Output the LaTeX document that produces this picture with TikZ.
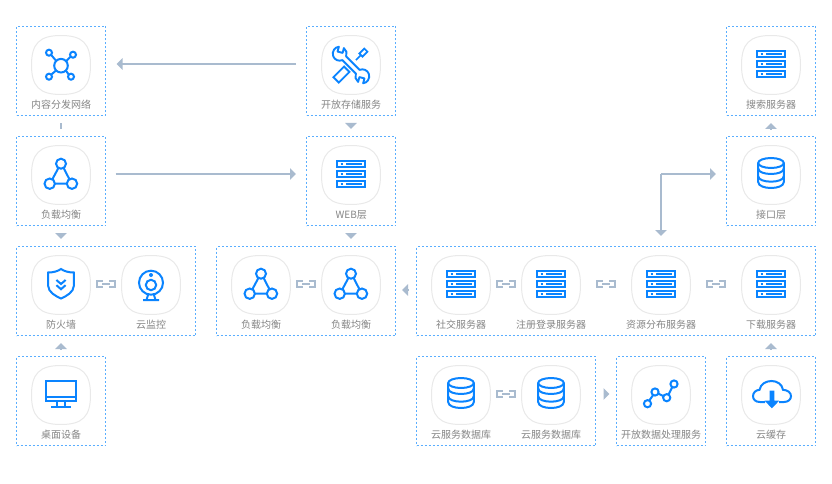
\documentclass[tikz,border=0pt]{standalone}
\usepackage{fontspec}
\setmainfont{Noto Sans CJK SC}
\usetikzlibrary{arrows.meta,calc}
\definecolor{iconblue}{HTML}{0A84FF}
\definecolor{dashblue}{HTML}{5AAEFF}
\definecolor{linkgray}{HTML}{A9BBCF}
\definecolor{softgray}{HTML}{E9E9E9}
\definecolor{labelgray}{HTML}{858585}
\tikzset{
  groupbox/.style={draw=dashblue,line width=1pt,dash pattern=on 2pt off 2pt,outer sep=0pt,inner sep=0pt,anchor=north west},
  squircle/.style={draw=softgray,line width=1pt,fill=white},
  tilelabel/.style={text=labelgray,font=\fontsize{10}{12}\selectfont,inner sep=0pt},
  ico/.style={draw=iconblue,line width=2pt,line join=miter},
  conn/.style={draw=linkgray,line width=2pt},
  headtip/.style={-{Triangle[length=6pt,width=11.5pt]},conn},
  linkicon/.style={draw=linkgray,line width=2pt}
}
\newcommand{\tile}[5]{% name, cx, cy, label, icon
  \begin{scope}[shift={(#2,#3)}]
    \path[squircle] (0,-29.5) .. controls (21.5,-29.5) and (29.5,-21.5) .. (29.5,0)
      .. controls (29.5,21.5) and (21.5,29.5) .. (0,29.5)
      .. controls (-21.5,29.5) and (-29.5,21.5) .. (-29.5,0)
      .. controls (-29.5,-21.5) and (-21.5,-29.5) .. (0,-29.5) -- cycle;
    #5
    \node[tilelabel] (#1) at (0.2,39.8) {#4};
  \end{scope}}
\newcommand{\icnet}{
  \draw[ico] (0,0.7) circle (6.8);
  \draw[ico] (-12,-12.3) circle (3) (12,-10.3) circle (3) (-12,11.7) circle (3) (10,11.7) circle (3);
  \draw[ico] (-9.9,-10.2) -- (-4.8,-4.1) (9.6,-8.4) -- (5,-3.6) (-9.8,9.7) -- (-5,5.5) (7.8,9.6) -- (4.8,5.5);
}
\newcommand{\icbal}{
  \draw[ico] (0,-11.3) circle (5) (-11.3,8.7) circle (5.2) (11,8.7) circle (5.2);
  \draw[ico] (-2.6,-7) -- (-8.6,4.2) (2.6,-7) -- (8.4,4.2) (-6.1,8.7) -- (5.8,8.7);
}
\newcommand{\icsrv}{
  \foreach \yy in {-13.7,-3.7,6.3}{
    \draw[ico] (-14,\yy) rectangle (14,\yy+5.4);
    \draw[iconblue,line width=1.3pt] (-10.5,\yy+2.7) -- (-8.5,\yy+2.7) (-5,\yy+2.7) -- (11,\yy+2.7);
  }
}
\newcommand{\icdb}{
  \draw[ico] (-12.8,-12) -- (-12.8,7) .. controls (-12.8,15) and (12.8,15) .. (12.8,7) -- (12.8,-12);
  \draw[ico] (0,-12) ellipse (12.8 and 5);
  \draw[ico] (-12.8,-6.5) .. controls (-12.8,0.8) and (12.8,0.8) .. (12.8,-6.5);
  \draw[ico] (-12.8,1.2) .. controls (-12.8,8.5) and (12.8,8.5) .. (12.8,1.2);
}
\newcommand{\icshield}{
  \draw[ico] (-12.8,-12.5) .. controls (-7,-12.5) and (-3,-14) .. (0,-16)
    .. controls (3,-14) and (7,-12.5) .. (12.8,-12.5) -- (12.8,1)
    .. controls (12.8,7) and (5,11.5) .. (0,13.5)
    .. controls (-5,11.5) and (-12.8,7) .. (-12.8,1) -- cycle;
  \draw[ico] (-4.6,-5) -- (0,-1) -- (4.6,-5) (-4.6,0.2) -- (0,4.2) -- (4.6,0.2);
}
\newcommand{\iccam}{
  \draw[ico] (0,-2.3) circle (12);
  \draw[ico] (0,0) circle (5.2);
  \fill[iconblue] (0,-10) circle (2);
  \draw[ico] (-3,10) -- (-4.5,15) (3,10) -- (4.5,15) (-8,15) -- (8,15);
}
\newcommand{\icmon}{
  \draw[ico] (-15,-14) rectangle (15,6);
  \draw[ico] (-15,1.7) -- (15,1.7);
  \draw[ico] (-4,6) -- (-4,12) (4,6) -- (4,12) (-10,12) -- (10,12);
}
\newcommand{\iccloud}{
  \draw[ico] (-6,7) -- (-11,7) .. controls (-15.5,7) and (-18,4.5) .. (-18,1.2)
    .. controls (-18,-2.5) and (-15,-5) .. (-11.5,-5.2)
    .. controls (-10.5,-11) and (-5,-14) .. (0.5,-14)
    .. controls (6,-14) and (11,-11) .. (12,-5.2)
    .. controls (16.5,-5) and (20,-2.5) .. (20,1.2)
    .. controls (20,4.5) and (17,7) .. (13,7) -- (8,7);
  \fill[iconblue] (-1.4,-4.3) -- (3.4,-4.3) -- (3.4,5.7) -- (8.2,5.7) -- (0.9,13.3) -- (-6.4,5.7) -- (-1.4,5.7) -- cycle;
}
\newcommand{\ictrend}{
  \draw[ico] (-13.5,8.7) circle (3.6) (-6,-3) circle (3.6) (5.7,2.7) circle (3.6) (13,-11) circle (3.6);
  \draw[ico] (-11.8,5.6) -- (-7.8,-0) (-2.8,-1.5) -- (2.5,1.2) (7.5,-0.5) -- (11.2,-7.8);
}
\newcommand{\ictool}{
  \begin{scope}[rotate=45]
    \draw[ico,line width=1.9pt,line join=round] (-9.5,-2.6) -- (9.5,-2.6) arc (202:398:7)
      -- (19,0) -- (14.5,2.6) -- (16.97,6.93) arc (82:158:7)
      -- (-9.5,2.6) arc (22:218:7)
      -- (-19,0) -- (-14.5,-2.6) -- (-16.97,-6.93) arc (262:338:7) -- cycle;
  \end{scope}
  \begin{scope}[rotate=-45]
    \draw[ico,line width=1.9pt] (-21,-3.8) rectangle (-6,3.8);
    \draw[ico,line width=1.7pt] (7,0) -- (14,0);
    \draw[ico,line width=1.7pt] (14,-2.2) rectangle (21,2.2);
  \end{scope}
}
\newcommand{\linkat}[2]{
  \begin{scope}[shift={(#1,#2)}]
    \draw[linkicon] (-3,-3) -- (-9,-3) -- (-9,3) -- (-3,3) (3,-3) -- (9,-3) -- (9,3) -- (3,3);
    \draw[linkicon,line width=1.6pt] (-4,0) -- (4,0);
  \end{scope}}
\begin{document}
\begin{tikzpicture}[x=1pt,y=1pt,yscale=-1]
\useasboundingbox (0,0) rectangle (832,484);
% dashed boxes
\node[groupbox,minimum width=89pt,minimum height=89pt] (bcdn) at (16.5,26.5) {};
\node[groupbox,minimum width=89pt,minimum height=89pt] (blb)  at (16.5,136.5) {};
\node[groupbox,minimum width=179pt,minimum height=89pt] (bfw) at (16.5,246.5) {};
\node[groupbox,minimum width=89pt,minimum height=89pt] (bpc)  at (16.5,356.5) {};
\node[groupbox,minimum width=89pt,minimum height=89pt] (boss) at (306.5,26.5) {};
\node[groupbox,minimum width=89pt,minimum height=89pt] (bweb) at (306.5,136.5) {};
\node[groupbox,minimum width=179pt,minimum height=89pt] (blbs) at (216.5,246.5) {};
\node[groupbox,minimum width=399pt,minimum height=89pt] (bapp) at (416.5,246.5) {};
\node[groupbox,minimum width=179pt,minimum height=89pt] (bdb) at (416.5,356.5) {};
\node[groupbox,minimum width=89pt,minimum height=89pt] (bdata) at (616.5,356.5) {};
\node[groupbox,minimum width=89pt,minimum height=89pt] (bcache) at (726.5,356.5) {};
\node[groupbox,minimum width=89pt,minimum height=89pt] (bsearch) at (726.5,26.5) {};
\node[groupbox,minimum width=89pt,minimum height=89pt] (bapi) at (726.5,136.5) {};
% tiles
\tile{t1}{61}{65}{内容分发网络}{\icnet}
\tile{t2}{61}{175}{负载均衡}{\icbal}
\tile{t3}{61}{285}{防火墙}{\icshield}
\tile{t4}{151}{285}{云监控}{\iccam}
\tile{t5}{61}{395}{桌面设备}{\icmon}
\tile{t6}{351}{65}{开放存储服务}{\ictool}
\tile{t7}{351}{175}{WEB层}{\icsrv}
\tile{t8}{261}{285}{负载均衡}{\icbal}
\tile{t9}{351}{285}{负载均衡}{\icbal}
\tile{t10}{461}{285}{社交服务器}{\icsrv}
\tile{t11}{551}{285}{注册登录服务器}{\icsrv}
\tile{t12}{661}{285}{资源分布服务器}{\icsrv}
\tile{t13}{771}{285}{下载服务器}{\icsrv}
\tile{t14}{461}{395}{云服务数据库}{\icdb}
\tile{t15}{551}{395}{云服务数据库}{\icdb}
\tile{t16}{661}{395}{开放数据处理服务}{\ictrend}
\tile{t17}{771}{395}{云缓存}{\iccloud}
\tile{t18}{771}{65}{搜索服务器}{\icsrv}
\tile{t19}{771}{175}{接口层}{\icdb}
% link icons
\linkat{106}{284}\linkat{306}{284}\linkat{506}{284}\linkat{606}{284}\linkat{716}{284}\linkat{506}{394}
% long connectors
\draw[headtip] ($(boss.west)+(-10.5,-7)$) -- ($(bcdn.east)+(11,-7)$);
\draw[headtip] ($(blb.east)+(10,-7)$) -- ($(bweb.west)+(-10.5,-7)$);
\coordinate (elbow) at ($(bapi.west)+(-65.5,-7)$);
\coordinate (downend) at ($(bapi.west)+(-65.5,55)$);
\draw[headtip] (elbow) -- ($(bapi.west)+(-10.5,-7)$);
\draw[headtip] (elbow) -- (downend);
% short connector stub
\draw[conn] ($(bcdn.south)+(0,8)$) -- ($(blb.north)+(0,-7)$);
% tip-only connectors
\draw[headtip] ($(boss.south)+(0,7.5)$) -- ($(boss.south)+(0,13.5)$);
\draw[headtip] ($(bweb.south)+(0,7.5)$) -- ($(bweb.south)+(0,13.5)$);
\draw[headtip] ($(blb.south)+(0,7.5)$) -- ($(blb.south)+(0,13.5)$);
\draw[headtip] ($(bpc.north)+(0,-7.5)$) -- ($(bpc.north)+(0,-13.5)$);
\draw[headtip] ($(bapi.north)+(0,-7.5)$) -- ($(bapi.north)+(0,-13.5)$);
\draw[headtip] ($(bcache.north)+(0,-7.5)$) -- ($(bcache.north)+(0,-13.5)$);
\draw[headtip] ($(bapp.west)+(-8.5,-1)$) -- ($(bapp.west)+(-14.5,-1)$);
\draw[headtip] ($(bdb.east)+(8,-7)$) -- ($(bdb.east)+(14,-7)$);
\end{tikzpicture}
\end{document}
